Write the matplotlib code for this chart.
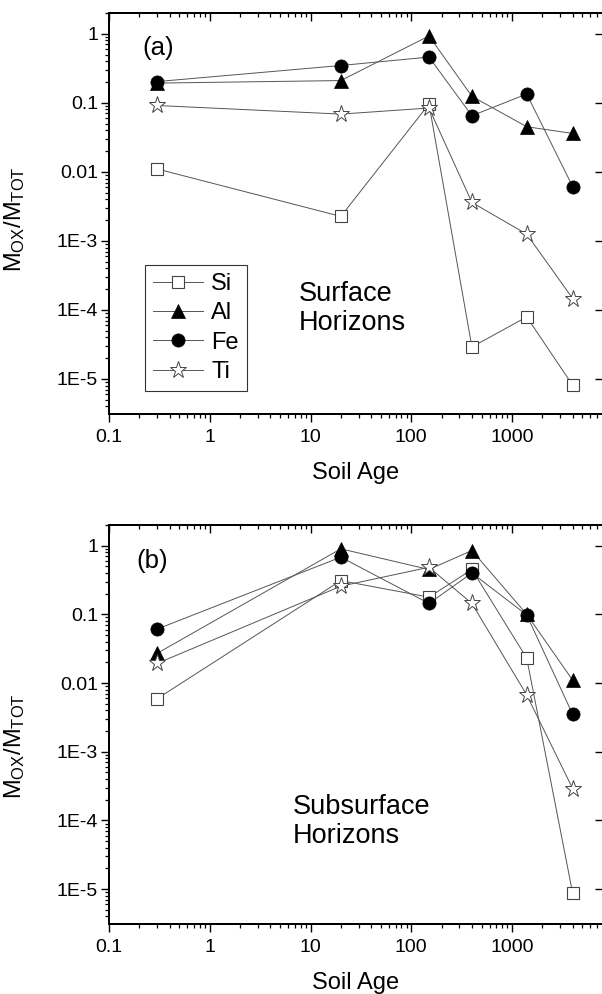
import numpy as np
import matplotlib
matplotlib.use("Agg")
import matplotlib.pyplot as plt
from matplotlib.ticker import LogLocator, NullLocator, NullFormatter

plt.rcParams["font.family"] = ["Liberation Sans", "DejaVu Sans"]
plt.rcParams["mathtext.fontset"] = "custom"
plt.rcParams["mathtext.rm"] = "Liberation Sans"
plt.rcParams["mathtext.it"] = "Liberation Sans"
plt.rcParams["mathtext.default"] = "regular"

# -----------------------
# Data
# -----------------------
soil_age = [0.3, 20, 150, 400, 1400, 4000]

# (a) surface horizons
surf_si = [0.011, 0.00226, 0.096, 2.9e-5, 7.9e-5, 8.1e-6]
surf_al = [0.193, 0.21, 0.93, 0.124, 0.045, 0.036]
surf_fe = [0.203, 0.347, 0.46, 0.065, 0.134, 0.0061]
surf_ti = [0.0914, 0.0686, 0.084, 0.0036, 0.00125, 1.46e-4]

# (b) subsurface horizons
sub_si = [0.0059, 0.31, 0.178, 0.45, 0.023, 8.7e-6]
sub_al = [0.027, 0.90, 0.45, 0.85, 0.10, 0.011]
sub_fe = [0.061, 0.68, 0.144, 0.40, 0.098, 0.0035]
sub_ti = [0.0193, 0.257, 0.485, 0.144, 0.0067, 2.9e-4]

elements = ["Si", "Al", "Fe", "Ti"]
y_ticks = [1, 0.1, 0.01, 1e-3, 1e-4, 1e-5]
y_tick_labels = ["1", "0.1", "0.01", "1E-3", "1E-4", "1E-5"]
x_ticks = [0.1, 1, 10, 100, 1000]
x_tick_labels = ["0.1", "1", "10", "100", "1000"]

xlim = (0.1, 8000)
ylim = (3.1e-6, 2.0)

# -----------------------
# Styles
# -----------------------
line_kw = dict(color="#555555", lw=0.7)
styles = {
    "Si": dict(marker="s", ms=8.2, mfc="white", mec="#444444", mew=0.8),
    "Al": dict(marker="^", ms=10.5, mfc="black", mec="black", mew=0.5),
    "Fe": dict(marker="o", ms=9.5, mfc="black", mec="black", mew=0.5),
    "Ti": dict(marker="*", ms=12.5, mfc="white", mec="#444444", mew=0.7),
}

fig = plt.figure(figsize=(6.02, 9.94), dpi=100)
W, H = 602.0, 994.0


def px_axes(left, top, right, bottom):
    return fig.add_axes([left / W, 1 - bottom / H, (right - left) / W, (bottom - top) / H])


def setup(ax):
    ax.set_xscale("log")
    ax.set_yscale("log")
    ax.set_xlim(*xlim)
    ax.set_ylim(*ylim)
    ax.set_xticks(x_ticks)
    ax.set_xticklabels(x_tick_labels)
    ax.set_yticks(y_ticks)
    ax.set_yticklabels(y_tick_labels)
    ax.xaxis.set_minor_locator(LogLocator(base=10, subs=np.arange(2, 10), numticks=20))
    ax.yaxis.set_minor_locator(LogLocator(base=10, subs=np.arange(2, 10), numticks=20))
    ax.xaxis.set_minor_formatter(NullFormatter())
    ax.yaxis.set_minor_formatter(NullFormatter())
    ax.tick_params(axis="both", which="major", direction="out", length=6, width=1.0,
                   labelsize=14, top=False, right=False)
    ax.tick_params(axis="both", which="minor", direction="out", length=3, width=0.9,
                   top=False, right=False)
    ax.tick_params(axis="x", which="major", pad=5)
    ax.tick_params(axis="y", which="major", pad=2)
    for sp in ax.spines.values():
        sp.set_linewidth(1.3)

    # top axis: inward ticks, no labels
    ax_top = ax.twiny()
    ax_top.set_xscale("log")
    ax_top.set_xlim(*xlim)
    ax_top.set_xticks(x_ticks)
    ax_top.xaxis.set_minor_locator(LogLocator(base=10, subs=np.arange(2, 10), numticks=20))
    ax_top.xaxis.set_major_formatter(NullFormatter())
    ax_top.xaxis.set_minor_formatter(NullFormatter())
    ax_top.tick_params(axis="x", which="major", direction="in", length=6, width=1.0)
    ax_top.tick_params(axis="x", which="minor", direction="in", length=3, width=0.9)

    # right axis: inward major ticks only
    ax_right = ax.twinx()
    ax_right.set_yscale("log")
    ax_right.set_ylim(*ylim)
    ax_right.set_yticks(y_ticks)
    ax_right.yaxis.set_minor_locator(NullLocator())
    ax_right.yaxis.set_major_formatter(NullFormatter())
    ax_right.tick_params(axis="y", which="major", direction="in", length=6, width=1.0)
    for a in (ax_top, ax_right):
        for sp in a.spines.values():
            sp.set_linewidth(1.3)

    ax.set_xlabel("Soil Age", fontsize=17, labelpad=11)
    ax.set_ylabel(r"M$_{OX}$/M$_{TOT}$", fontsize=17)


def draw(ax, series):
    handles = []
    for name, vals in zip(elements, series):
        h, = ax.plot(soil_age, vals, label=name, **line_kw, **styles[name])
        handles.append(h)
    return handles


# -----------------------
# Panel (a): surface
# -----------------------
ax_a = px_axes(109, 13, 603, 414)
setup(ax_a)
handles = draw(ax_a, [surf_si, surf_al, surf_fe, surf_ti])
ax_a.yaxis.set_label_coords(-0.166, 0.486)
ax_a.text(0.099, 0.913, "(a)", transform=ax_a.transAxes, fontsize=18.5,
          ha="center", va="center")
ax_a.text(0.385, 0.332, "Surface\nHorizons", transform=ax_a.transAxes, fontsize=19.5,
          ha="left", va="top", linespacing=1.15)
leg = ax_a.legend(handles=handles, loc="upper left", bbox_to_anchor=(0.073, 0.372),
                  borderaxespad=0, fontsize=17, frameon=True, fancybox=False,
                  framealpha=1, edgecolor="#333333", handlelength=2.1,
                  handletextpad=0.35, labelspacing=0.31, borderpad=0.35,
                  numpoints=1)
leg.get_frame().set_linewidth(0.8)

# -----------------------
# Panel (b): subsurface
# -----------------------
ax_b = px_axes(109, 525, 603, 924)
setup(ax_b)
draw(ax_b, [sub_si, sub_al, sub_fe, sub_ti])
ax_b.yaxis.set_label_coords(-0.166, 0.446)
ax_b.text(0.087, 0.910, "(b)", transform=ax_b.transAxes, fontsize=18.5,
          ha="center", va="center")
ax_b.text(0.372, 0.326, "Subsurface\nHorizons", transform=ax_b.transAxes, fontsize=19.5,
          ha="left", va="top", linespacing=1.15)

fig.savefig("out.png", dpi=100)
